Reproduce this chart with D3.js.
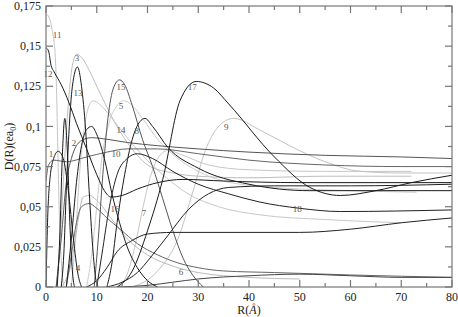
<!DOCTYPE html>
<html>
<head>
<meta charset="utf-8">
<script src="https://cdn.jsdelivr.net/npm/d3@7"></script>
<style>
    body { margin: 0; background: #fff; }
</style>
</head>
<body>
<div id="plot"></div>
<script>
// curves, [R, D]
let curve1 = [[0, 0], [0.3, 0.04], [0.8, 0.068], [1.5, 0.08], [2.4, 0.0845], [3.4, 0.08], [4.4, 0.06], [5.4, 0.03], [6.3, 0.008], [7, 0]];
let curve2 = [[2, 0], [3, 0.03], [4, 0.065], [5, 0.08], [6, 0.088], [7.5, 0.092], [9, 0.093], [12, 0.092], [16, 0.09], [22, 0.088], [30, 0.086], [40, 0.084], [55, 0.082], [70, 0.081], [80, 0.08]];
let curve3 = [[2, 0], [2.8, 0.03], [3.5, 0.07], [4.3, 0.11], [5.2, 0.138], [6.1, 0.145], [7, 0.143], [8.5, 0.135], [10, 0.125], [12, 0.112], [14, 0.1], [16, 0.09], [18, 0.082], [20, 0.076], [25, 0.071], [30, 0.069], [40, 0.068], [55, 0.069], [72, 0.069]];
let curve4 = [[3, 0], [4, 0.005], [5, 0.015], [5.8, 0.03], [6.5, 0.045], [7.3, 0.056], [8.5, 0.057], [10, 0.054], [13, 0.042], [16, 0.03], [20, 0.02], [25, 0.013], [30, 0.009], [40, 0.006], [50, 0.005]];
let curve5 = [[8, 0], [9, 0.02], [10, 0.05], [11, 0.08], [12.5, 0.103], [14, 0.113], [15.2, 0.116], [17, 0.113], [19, 0.105], [22, 0.092], [26, 0.08], [30, 0.072], [35, 0.066], [45, 0.062], [60, 0.06], [73, 0.059]];
let curve6 = [[4, 0], [5, 0.02], [6, 0.04], [7, 0.05], [8.5, 0.052], [10, 0.049], [12, 0.043], [14.6, 0.036], [18, 0.027], [22, 0.02], [26, 0.015], [30, 0.012], [35, 0.01], [45, 0.009], [60, 0.0075], [80, 0.006]];
let curve7 = [[14, 0], [16, 0.008], [17.5, 0.025], [19, 0.048], [20.5, 0.068], [22, 0.08], [24, 0.085], [27, 0.082], [32, 0.076], [40, 0.073], [55, 0.072], [72, 0.072]];
let curve8 = [[12, 0], [13, 0.015], [14, 0.04], [15.5, 0.07], [17, 0.092], [18.5, 0.103], [19.5, 0.105], [21, 0.1], [24, 0.087], [30, 0.074], [40, 0.064], [52, 0.06], [65, 0.06], [80, 0.06]];
let curve9 = [[17, 0], [22, 0.01], [26, 0.03], [29, 0.06], [31.4, 0.085], [34, 0.1], [37, 0.105], [42, 0.098], [48, 0.088], [55, 0.078], [62, 0.072], [70, 0.071], [80, 0.071]];
let curve10 = [[0, 0.066], [0.5, 0.076], [1.5, 0.079], [4, 0.078], [8, 0.081], [12, 0.084], [16, 0.086], [22, 0.086], [30, 0.083], [40, 0.079], [55, 0.076], [70, 0.075], [80, 0.075]];
let curve11 = [[0, 0.17], [0.6, 0.168], [1.2, 0.16], [1.8, 0.145], [2.1, 0.12], [2.3, 0.09], [2.5, 0.06], [2.8, 0.03], [3.2, 0.008], [3.6, 0]];
let curve12 = [[0, 0.149], [0.5, 0.147], [1, 0.138], [1.6, 0.134], [3, 0.126], [4.5, 0.115], [6, 0.102], [8, 0.086], [10, 0.07], [11.5, 0.06], [12.8, 0.056], [15, 0.057], [18, 0.061], [22, 0.065], [27, 0.067], [35, 0.066], [50, 0.065], [65, 0.065], [80, 0.065]];
let curve13 = [[3, 0], [3.5, 0.02], [4, 0.06], [4.5, 0.095], [5.2, 0.125], [6.2, 0.137], [7, 0.125], [7.8, 0.098], [8.5, 0.06], [9.2, 0.025], [9.8, 0.005], [10.3, 0]];
let curve14 = [[5, 0], [5.8, 0.03], [6.6, 0.07], [7.6, 0.1], [8.5, 0.113], [9.3, 0.116], [10.5, 0.114], [12, 0.109], [14, 0.101], [16, 0.093], [19, 0.082], [23, 0.07], [28, 0.058], [34, 0.05], [42, 0.045], [55, 0.042], [70, 0.04]];
let curve15 = [[9.5, 0], [10.3, 0.03], [11.2, 0.07], [12.2, 0.105], [13.3, 0.124], [14.5, 0.129], [15.5, 0.126], [17, 0.113], [19, 0.092], [21, 0.075], [23, 0.055], [25, 0.035], [27, 0.018], [29, 0.007], [31, 0]];
let curve16 = [[4, 0], [5, 0.03], [6, 0.065], [7, 0.088], [8, 0.098], [9, 0.1], [10, 0.095], [11.5, 0.08], [13, 0.058], [14.5, 0.04], [16, 0.025], [18, 0.012], [20, 0.004], [22, 0]];
let curve17 = [[14, 0], [17, 0.01], [20, 0.035], [23, 0.067], [26.4, 0.116], [29.6, 0.128], [33, 0.124], [36, 0.114], [45, 0.081], [52, 0.062], [58, 0.057], [65, 0.06], [72, 0.065], [80, 0.0696]];
let curve18 = [[10, 0], [11, 0.02], [12.5, 0.05], [14, 0.07], [16, 0.08], [18, 0.083], [21, 0.08], [25, 0.072], [30, 0.064], [36, 0.058], [42, 0.053], [50, 0.049], [58, 0.047], [80, 0.048]];
// unlabelled curves
let curveA = [[2.2, 0], [2.7, 0.03], [3.2, 0.08], [3.7, 0.105], [4.2, 0.085], [4.7, 0.04], [5.2, 0.01], [5.6, 0]];
let curveB = [[12, 0], [15, 0.003], [18, 0.009], [20.5, 0.018], [24, 0.032], [28, 0.048], [32, 0.058], [36, 0.062], [45, 0.063], [60, 0.063], [80, 0.064]];
let curveC = [[8, 0], [10, 0.004], [12, 0.012], [14, 0.022], [17, 0.029], [20, 0.033], [25, 0.034], [40, 0.034], [50, 0.034], [60, 0.036], [70, 0.04], [80, 0.043]];
let curveD = [[14, 0], [20, 0.001], [25, 0.003], [30, 0.005], [40, 0.007], [50, 0.008], [60, 0.007], [70, 0.006], [80, 0.006]];

let xTicks = [0, 10, 20, 30, 40, 50, 60, 70, 80];
let yTicks = [0, 0.025, 0.05, 0.075, 0.1, 0.125, 0.15, 0.175];
let yTickLabels = ['0', '0,025', '0,05', '0,075', '0,1', '0,125', '0,15', '0,175'];

// curve name, R, D where the small number sits
let labelNames = ['11', '12', '3', '13', '15', '5', '14', '8', '2', '10', '1', '17', '9', '16', '7', '18', '4', '6'];
let labelR = [2.2, 0.4, 6.1, 6.3, 14.8, 14.8, 14.8, 17.9, 5.5, 13.8, 1.0, 28.8, 35.5, 13.6, 19.3, 49.5, 6.3, 26.6];
let labelD = [0.157, 0.1325, 0.1425, 0.1207, 0.1245, 0.113, 0.0977, 0.097, 0.09, 0.0827, 0.0827, 0.1245, 0.1, 0.0484, 0.046, 0.0484, 0.0117, 0.0092];

let svgWidth = 458;
let svgHeight = 317;
let serif = "'Liberation Serif', 'Times New Roman', Times, serif";

let margin = {
    top: 6,
    right: 6,
    bottom: 30,
    left: 46
};

let chartWidth = svgWidth - margin.left - margin.right;
let chartHeight = svgHeight - margin.top - margin.bottom;

let $svg = d3.select('#plot')
    .append('svg')
    .attr('width', svgWidth)
    .attr('height', svgHeight)
    .attr('font-family', serif);

let $chartGroup = $svg.append('g')
    .attr('transform', `translate(${margin.left}, ${margin.top})`);

let xLinearScale = d3.scaleLinear()
    .domain([0, 80])
    .range([0, chartWidth]);

let yLinearScale = d3.scaleLinear()
    .domain([0, 0.175])
    .range([chartHeight, 0]);

// curves in drawing order, with their stroke
let series = [
    { data: curve11, color: '#c4c4c4' },
    { data: curve3, color: '#bdbdbd' },
    { data: curve14, color: '#c8c8c8' },
    { data: curve5, color: '#cdcdcd' },
    { data: curve7, color: '#c6c6c6' },
    { data: curve9, color: '#c2c2c2' },
    { data: curve4, color: '#bbbbbb' },
    { data: curve10, color: '#666' },
    { data: curve2, color: '#555' },
    { data: curve6, color: '#666' },
    { data: curve15, color: '#555' },
    { data: curveD, color: '#444' },
    { data: curveC, color: '#222' },
    { data: curveB, color: '#222' },
    { data: curve18, color: '#222' },
    { data: curve16, color: '#1a1a1a' },
    { data: curve12, color: '#1a1a1a' },
    { data: curve8, color: '#1a1a1a' },
    { data: curve1, color: '#1a1a1a' },
    { data: curveA, color: '#1a1a1a' },
    { data: curve13, color: '#1a1a1a' },
    { data: curve17, color: '#1a1a1a' }
];

let lineGen = d3.line()
    .x(d => xLinearScale(d[0]))
    .y(d => yLinearScale(d[1]))
    .curve(d3.curveMonotoneX);

$chartGroup.append('clipPath')
    .attr('id', 'clip')
    .append('rect')
    .attr('width', chartWidth)
    .attr('height', chartHeight);

$chartGroup.append('g')
    .attr('clip-path', 'url(#clip)')
    .selectAll('path')
    .data(series)
    .enter()
    .append('path')
    .attr('d', s => lineGen(s.data))
    .attr('fill', 'none')
    .attr('stroke', s => s.color)
    .attr('stroke-width', 1);

// small curve numbers
$chartGroup.selectAll('.curve-label')
    .data(labelNames)
    .enter()
    .append('text')
    .attr('class', 'curve-label')
    .attr('x', (d, i) => xLinearScale(labelR[i]))
    .attr('y', (d, i) => yLinearScale(labelD[i]))
    .attr('text-anchor', 'middle')
    .attr('dy', '0.35em')
    .attr('font-size', 9)
    .attr('fill', '#555')
    .text(d => d);

// frame
$chartGroup.append('rect')
    .attr('width', chartWidth)
    .attr('height', chartHeight)
    .attr('fill', 'none')
    .attr('stroke', '#777')
    .attr('stroke-width', 1.2);

// inward ticks on all four sides
let xMinor = d3.range(5, 80, 10);
let yMinor = d3.range(0.0125, 0.175, 0.025);
let $ticks = $chartGroup.append('g').attr('stroke', '#777').attr('stroke-width', 1.2);

function addXTicks(values, len) {
    values.forEach(v => {
        let x = xLinearScale(v);
        $ticks.append('line').attr('x1', x).attr('x2', x).attr('y1', chartHeight).attr('y2', chartHeight - len);
        $ticks.append('line').attr('x1', x).attr('x2', x).attr('y1', 0).attr('y2', len);
    });
}

function addYTicks(values, len) {
    values.forEach(v => {
        let y = yLinearScale(v);
        $ticks.append('line').attr('x1', 0).attr('x2', len).attr('y1', y).attr('y2', y);
        $ticks.append('line').attr('x1', chartWidth).attr('x2', chartWidth - len).attr('y1', y).attr('y2', y);
    });
}

addXTicks(xTicks, 7);
addXTicks(xMinor, 4);
addYTicks(yTicks, 7);
addYTicks(yMinor, 4);

// tick labels
$chartGroup.selectAll('.x-tick')
    .data(xTicks)
    .enter()
    .append('text')
    .attr('font-size', 12)
    .attr('fill', '#222')
    .attr('x', d => xLinearScale(d))
    .attr('y', chartHeight + 14)
    .attr('text-anchor', 'middle')
    .text(d => d);

$chartGroup.selectAll('.y-tick')
    .data(yTicks)
    .enter()
    .append('text')
    .attr('font-size', 12)
    .attr('fill', '#222')
    .attr('x', -5)
    .attr('y', d => yLinearScale(d))
    .attr('dy', '0.35em')
    .attr('text-anchor', 'end')
    .text((d, i) => yTickLabels[i]);

// axis titles
let $xTitle = $chartGroup.append('text')
    .attr('font-size', 12)
    .attr('fill', '#222')
    .attr('x', chartWidth / 2)
    .attr('y', chartHeight + 27)
    .attr('text-anchor', 'middle');
$xTitle.append('tspan').text('R(');
$xTitle.append('tspan').attr('font-style', 'italic').text('Å');
$xTitle.append('tspan').text(')');

let $yTitle = $svg.append('text')
    .attr('font-size', 12)
    .attr('fill', '#222')
    .attr('transform', `translate(13, ${margin.top + chartHeight / 2}) rotate(-90)`)
    .attr('text-anchor', 'middle');
$yTitle.append('tspan').text('D(R)(ea');
$yTitle.append('tspan').attr('font-size', '8px').attr('dy', 3).text('0');
$yTitle.append('tspan').attr('dy', -3).text(')');
</script>
</body>
</html>
